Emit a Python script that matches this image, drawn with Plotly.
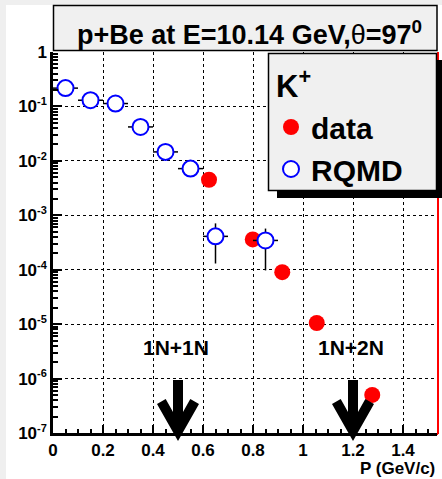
import plotly.graph_objects as go

# ---- data ----
rqmd_p = [0.05, 0.15, 0.25, 0.35, 0.45, 0.55, 0.65, 0.85]
rqmd_y = [0.217, 0.13, 0.113, 0.042, 0.0146, 0.0072, 4.1e-4, 3.45e-4]
rqmd_dp = [0.05] * 8
rqmd_err_up = [0.07, 0.04, 0.035, 0.012, 0.004, 0.002, 3.0e-4, 2.25e-4]
rqmd_err_dn = [0.05, 0.03, 0.026, 0.01, 0.003, 0.0016, 2.8e-4, 2.48e-4]

data_p = [0.624, 0.799, 0.917, 1.055, 1.277]
data_y = [4.5e-3, 3.6e-4, 9.0e-5, 1.05e-5, 5.0e-7]

ytick_vals = [1, 1e-1, 1e-2, 1e-3, 1e-4, 1e-5, 1e-6, 1e-7]
ytick_exp = ["", "-1", "-2", "-3", "-4", "-5", "-6", "-7"]

thresholds = [0.5, 1.2]
threshold_labels = ["1N+1N", "1N+2N"]
threshold_label_x = [0.49, 1.19]

FONT = "Liberation Sans, Arial, sans-serif"

ytick_text = ["1" if e == "" else f"10<sup><span style='font-size:11px'>{e}</span></sup>"
              for e in ytick_exp]

fig = go.Figure()

fig.add_trace(go.Scatter(
    x=data_p, y=data_y, mode="markers", name="data",
    marker=dict(symbol="circle", size=16, color="#ff0000", line=dict(width=0)),
))
fig.add_trace(go.Scatter(
    x=rqmd_p, y=rqmd_y, mode="markers", name="RQMD",
    marker=dict(symbol="circle", size=16, color="white", line=dict(width=2, color="#0000ff")),
    error_x=dict(type="data", array=rqmd_dp, color="black", thickness=1.5, width=0),
    error_y=dict(type="data", array=rqmd_err_up, arrayminus=rqmd_err_dn,
                 color="black", thickness=1.5, width=0),
))

# pixel helpers for plot area: x 53..437, y 52..433
L, R, T, B = 53, 437, 52, 433
def px2x(px):
    return (px - L) / (R - L)
def py2y(py):
    return (B - py) / (B - T)

shapes = []
# gray canvas strips
shapes.append(dict(type="rect", xref="paper", yref="paper", x0=px2x(-2), x1=px2x(6),
                   y0=py2y(481), y1=py2y(-2), fillcolor="#efefef", line=dict(width=0), layer="below"))
shapes.append(dict(type="rect", xref="paper", yref="paper", x0=px2x(-2), x1=px2x(444),
                   y0=py2y(5), y1=py2y(-2), fillcolor="#efefef", line=dict(width=0), layer="below"))
# red frame (right and bottom)
shapes.append(dict(type="line", xref="paper", yref="paper", x0=px2x(438), x1=px2x(438),
                   y0=py2y(434), y1=1, line=dict(color="#ff0000", width=2), layer="below"))
shapes.append(dict(type="line", xref="paper", yref="paper", x0=0, x1=px2x(438),
                   y0=py2y(434), y1=py2y(434), line=dict(color="#ff0000", width=2), layer="below"))
# title box
shapes.append(dict(type="rect", xref="paper", yref="paper", x0=px2x(53.5), x1=px2x(437),
                   y0=py2y(50.5), y1=py2y(5.5), fillcolor="#f0f0f0",
                   line=dict(color="black", width=1.5), layer="above"))
# legend shadow and box
shapes.append(dict(type="rect", xref="paper", yref="paper", x0=px2x(277), x1=px2x(443),
                   y0=py2y(198), y1=py2y(60), fillcolor="black", line=dict(width=0), layer="above"))
shapes.append(dict(type="rect", xref="paper", yref="paper", x0=px2x(268.5), x1=px2x(436.5),
                   y0=py2y(190.5), y1=py2y(53.5), fillcolor="#f0f0f0",
                   line=dict(color="black", width=1.5), layer="above"))

# arrows (polygon relative to tip, in px)
arrow_poly = [(0, 0), (-21, -37), (-12.3, -41.9), (-5, -29), (-5, -61), (5, -61),
              (5, -29), (12.3, -41.9), (21, -37)]
tip_py = 441
xscale = (R - L) / 1.536
for t in thresholds:
    pts = [(t + dx / xscale, py2y(tip_py + dy)) for dx, dy in arrow_poly]
    path = "M " + " L ".join(f"{a:.5f},{b:.5f}" for a, b in pts) + " Z"
    shapes.append(dict(type="path", xref="x", yref="paper", path=path,
                       fillcolor="black", line=dict(width=0), layer="above"))

annotations = []
annotations.append(dict(
    xref="paper", yref="paper", x=px2x(249), y=py2y(33), xanchor="center", yanchor="middle",
    text="<b>p+Be at E=10.14 GeV,</b>θ<b>=97<sup>0</sup></b>", showarrow=False,
    font=dict(family=FONT, size=27, color="black")))
annotations.append(dict(
    xref="paper", yref="paper", x=px2x(274), y=py2y(84), xanchor="left", yanchor="middle",
    text="<b>K<sup>+</sup></b>", showarrow=False,
    font=dict(family=FONT, size=31, color="black")))
for lab, lx in zip(threshold_labels, threshold_label_x):
    annotations.append(dict(
        xref="x", yref="y", x=lx, y=-5.43, text=lab, showarrow=False,
        xanchor="center", yanchor="middle",
        font=dict(family=FONT, size=21, color="black", weight="bold")))
annotations.append(dict(
    xref="paper", yref="paper", x=1.0, y=py2y(468), xanchor="right", yanchor="middle",
    text="P (GeV/c)", showarrow=False,
    font=dict(family=FONT, size=17, color="black", weight="bold")))

fig.update_layout(
    width=442, height=479,
    margin=dict(l=L, r=442 - R, t=T, b=479 - B, pad=0),
    paper_bgcolor="white", plot_bgcolor="rgba(0,0,0,0)",
    font=dict(family=FONT, color="black"),
    shapes=shapes, annotations=annotations,
    showlegend=True,
    legend=dict(x=px2x(271), y=py2y(101), xanchor="left", yanchor="top",
                bgcolor="rgba(0,0,0,0)", borderwidth=0,
                font=dict(family=FONT, size=30, color="black", weight="bold"),
                itemsizing="trace", tracegroupgap=0),
    xaxis=dict(range=[0, 1.536], dtick=0.2, tick0=0, showgrid=True,
               gridcolor="black", griddash="dot", gridwidth=1,
               showline=True, linecolor="black", linewidth=2.5,
               ticks="inside", ticklen=8, tickwidth=1.5, tickcolor="black",
               minor=dict(dtick=0.05, ticks="inside", ticklen=4, tickcolor="black", showgrid=False),
               tickfont=dict(family=FONT, size=17, color="black", weight="bold"),
               zeroline=False),
    yaxis=dict(type="log", range=[-7, 0], tickvals=ytick_vals, ticktext=ytick_text,
               showgrid=True, gridcolor="black", griddash="dot", gridwidth=1,
               showline=True, linecolor="black", linewidth=2.5,
               ticks="inside", ticklen=9, tickwidth=1.5, tickcolor="black",
               minor=dict(dtick="D1", ticks="inside", ticklen=5, tickcolor="black", showgrid=False),
               tickfont=dict(family=FONT, size=17, color="black", weight="bold"),
               zeroline=False),
)

fig.write_html("out.html")
